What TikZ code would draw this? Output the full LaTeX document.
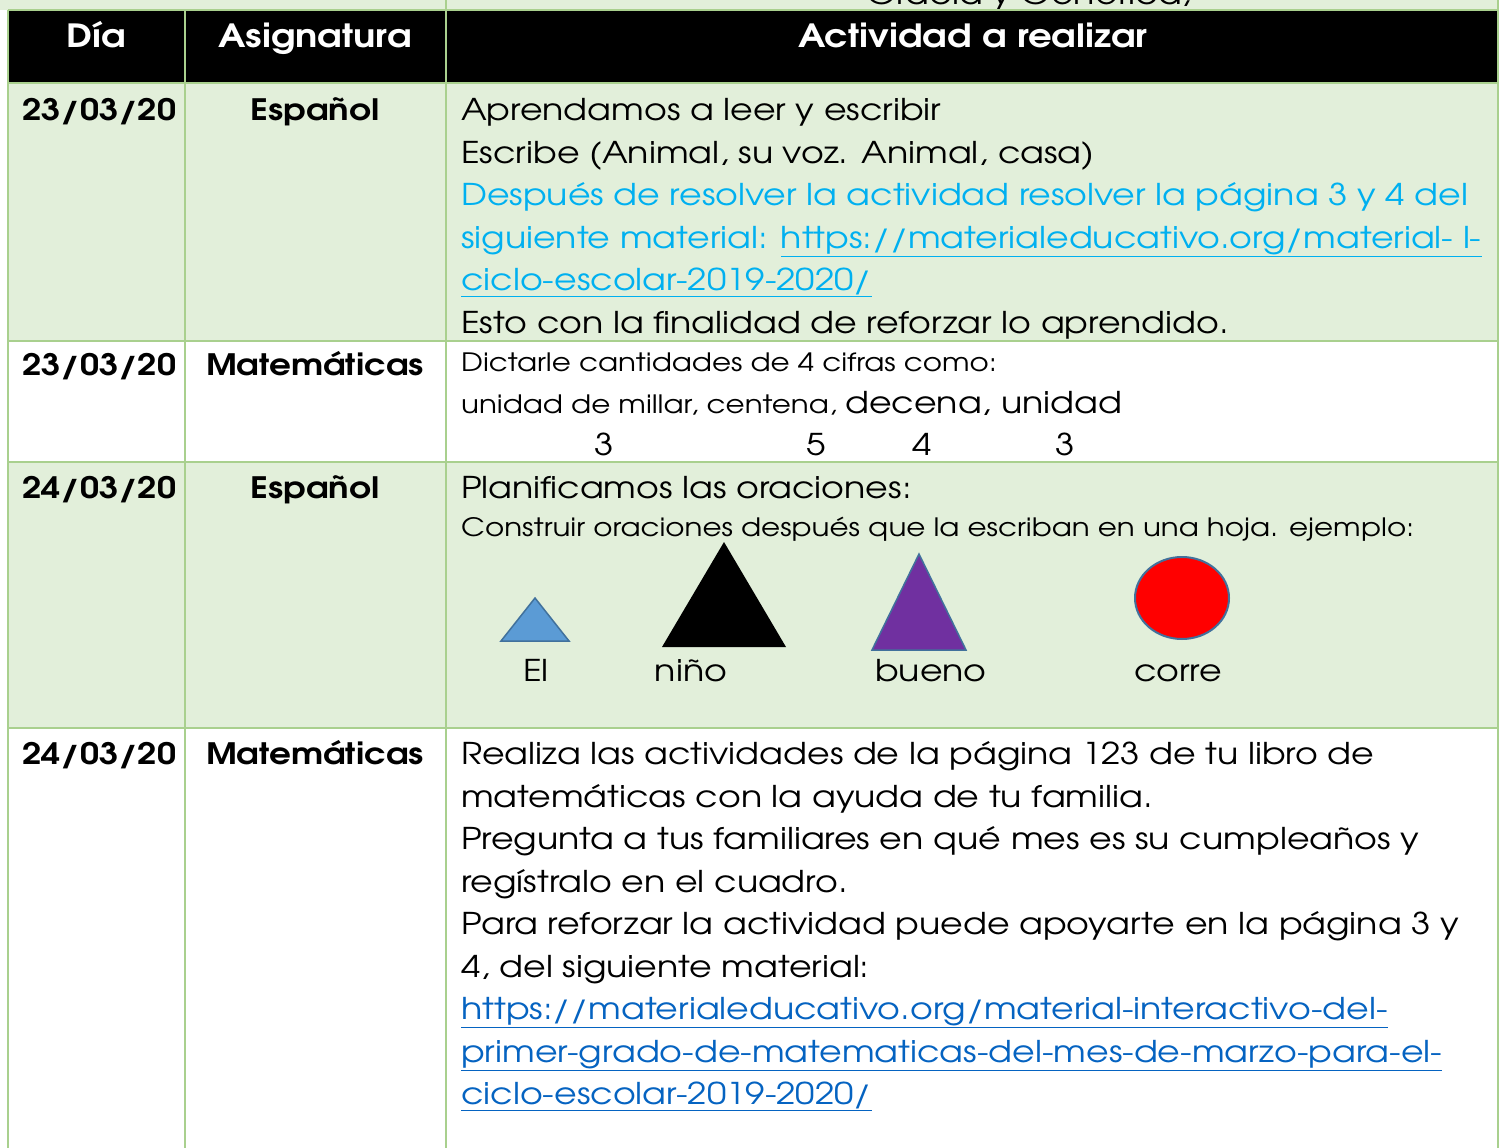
\documentclass[tikz,border=0pt]{standalone}
\usepackage{fontspec}
\setmainfont{TeX Gyre Adventor}[FakeStretch=1.16]

\definecolor{rowgreen}{HTML}{E2EFDA}
\definecolor{gridgreen}{HTML}{A9D08E}
\definecolor{linkblue}{HTML}{00B0F0}
\definecolor{urlblue}{HTML}{0563C1}
\definecolor{shapeedge}{HTML}{41719C}
\definecolor{skyblue}{HTML}{5B9BD5}
\definecolor{purple2}{HTML}{7030A0}

\newcommand{\mainsize}{\fontsize{30}{35}\selectfont}
\newcommand{\smallsize}{\fontsize{25.3}{30}\selectfont}
\newcommand{\headsize}{\fontsize{32}{36}\selectfont\bfseries}
\newcommand{\subjsize}{\fontsize{29.5}{34}\selectfont\bfseries}

\tikzset{
    txt/.style={anchor=base west, inner sep=0pt, font=\mainsize},
    small/.style={anchor=base west, inner sep=0pt, font=\smallsize},
    head/.style={anchor=base, inner sep=0pt, font=\headsize, text=white},
    date/.style={anchor=base west, inner sep=0pt, font=\subjsize},
    subj/.style={anchor=base, inner sep=0pt, font=\subjsize},
    word/.style={anchor=base, inner sep=0pt, font=\mainsize},
    grid/.style={gridgreen, line width=2pt}
}

\begin{document}
\begin{tikzpicture}[x=1pt, y=-1pt]
        \useasboundingbox (0,0) rectangle (1499,1148);

        \fill[rowgreen] (0,0) rectangle (1499,10);
        \fill[black] (8,10) rectangle (1499,83);
        \fill[rowgreen] (8,83) rectangle (1499,341);
        \fill[white] (8,341) rectangle (1499,462);
        \fill[rowgreen] (8,462) rectangle (1499,728);
        \fill[white] (8,728) rectangle (1499,1148);

        \begin{scope}
            \clip (0,0) rectangle (1499,10);
            \node[txt] (top) at (866,5) {Gracia y Genética,};
        \end{scope}

        \draw[grid] (8,10) -- (1498,10);
        \draw[grid] (8,83) -- (1498,83);
        \draw[grid] (8,341) -- (1498,341);
        \draw[grid] (8,462) -- (1498,462);
        \draw[grid] (8,728) -- (1498,728);
        \draw[grid] (8,10) -- (8,1148);
        \draw[grid] (185,10) -- (185,1148);
        \draw[grid] (446,0) -- (446,1148);
        \draw[grid] (1498,0) -- (1498,1148);

        \node[head] (dia) at (96,48) {Día};
        \node[head] (asig) at (315,48) {Asignatura};
        \node[head] (act) at (973,48) {Actividad a realizar};

        \node[date] (d1) at (22,120) {23/03/20};
        \node[subj] (s1) at (315,120) {Español};
        \node[txt] (a1) at (461,120) {Aprendamos a leer y escribir};
        \node[txt] (a2) at (461,163) {Escribe (Animal, su voz. Animal, casa)};
        \node[txt, text=linkblue] (a3) at (461,205) {Después de resolver la actividad resolver la página 3 y 4 del};
        \node[txt, text=linkblue] (a4) at (461,248) {siguiente material: \underline{https://materialeducativo.org/material- l-}};
        \node[txt, text=linkblue] (a5) at (461,290) {\underline{ciclo-escolar-2019-2020/}};
        \node[txt] (a6) at (461,333) {Esto con la finalidad de reforzar lo aprendido.};

        \node[date] (d2) at (22,375) {23/03/20};
        \node[subj] (s2) at (315,375) {Matemáticas};
        \node[small] (b1) at (461,371) {Dictarle cantidades de 4 cifras como:};
        \node[txt] (b2) at (461,413) {{\smallsize unidad de millar, centena, }decena, unidad};
        \node[word] (n1) at (604,455) {3};
        \node[word] (n2) at (816,455) {5};
        \node[word] (n3) at (922,455) {4};
        \node[word] (n4) at (1065,455) {3};

        \node[date] (d3) at (22,498) {24/03/20};
        \node[subj] (s3) at (315,498) {Español};
        \node[txt] (c1) at (461,498) {Planificamos las oraciones:};
        \node[small] (c2) at (461,536) {Construir oraciones después que la escriban en una hoja. ejemplo:};

        \filldraw[fill=skyblue, draw=shapeedge, line width=1.5pt] (535,598) -- (569,641) -- (501,641) -- cycle;
        \fill[black] (724,542) -- (786,647) -- (662,647) -- cycle;
        \filldraw[fill=purple2, draw=shapeedge, line width=1.5pt] (919,554) -- (966,650) -- (872,650) -- cycle;
        \filldraw[fill=red, draw=shapeedge, line width=2pt] (1182,598) ellipse (47 and 41);

        \node[word] (w1) at (536,681) {El};
        \node[word] (w2) at (691,681) {niño};
        \node[word] (w3) at (931,681) {bueno};
        \node[word] (w4) at (1178,681) {corre};

        \node[date] (d4) at (22,764) {24/03/20};
        \node[subj] (s4) at (315,764) {Matemáticas};
        \node[txt] (e1) at (461,764) {Realiza las actividades de la página 123 de tu libro de};
        \node[txt] (e2) at (461,807) {matemáticas con la ayuda de tu familia.};
        \node[txt] (e3) at (461,849) {Pregunta a tus familiares en qué mes es su cumpleaños y};
        \node[txt] (e4) at (461,892) {regístralo en el cuadro.};
        \node[txt] (e5) at (461,934) {Para reforzar la actividad puede apoyarte en la página 3 y};
        \node[txt] (e6) at (461,977) {4, del siguiente material:};
        \node[txt, text=urlblue] (e7) at (461,1019) {\underline{https://materialeducativo.org/material-interactivo-del-}};
        \node[txt, text=urlblue] (e8) at (461,1062) {\underline{primer-grado-de-matematicas-del-mes-de-marzo-para-el-}};
        \node[txt, text=urlblue] (e9) at (461,1104) {\underline{ciclo-escolar-2019-2020/}};
    \end{tikzpicture}
\end{document}
